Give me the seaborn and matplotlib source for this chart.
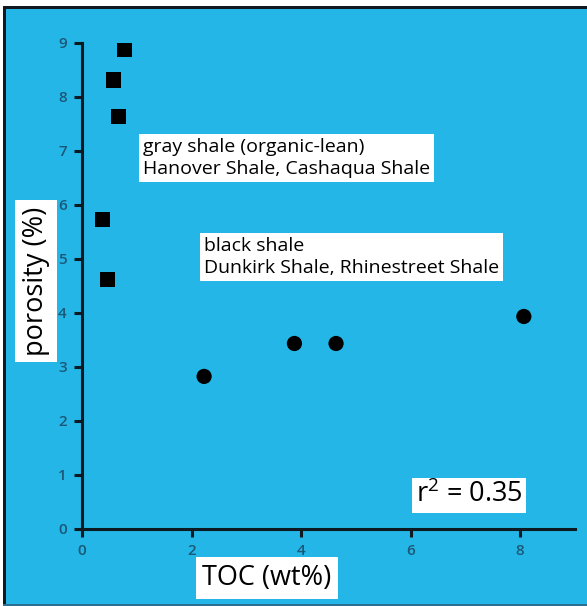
import matplotlib
matplotlib.use("Agg")
import matplotlib.pyplot as plt
import seaborn as sns
import pandas as pd
from matplotlib.patches import Rectangle

# TOC (wt%) and porosity (%) for each sample group
gray_toc = [0.78, 0.57, 0.66, 0.38, 0.46]
gray_porosity = [8.88, 8.31, 7.64, 5.72, 4.61]
black_toc = [2.23, 3.88, 4.64, 8.07]
black_porosity = [2.82, 3.43, 3.43, 3.93]

x_ticks = [0, 2, 4, 6, 8]
y_ticks = [0, 1, 2, 3, 4, 5, 6, 7, 8, 9]

gray_label = "gray shale (organic-lean)\nHanover Shale, Cashaqua Shale"
black_label = "black shale\nDunkirk Shale, Rhinestreet Shale"
r2_label = "r$^2$ = 0.35"

df = pd.DataFrame({
    "TOC": gray_toc + black_toc,
    "porosity": gray_porosity + black_porosity,
    "group": ["gray"] * len(gray_toc) + ["black"] * len(black_toc),
})

sns.set_theme(style="white")
plt.rcParams["font.family"] = ["Open Sans", "DejaVu Sans"]
plt.rcParams["mathtext.fontset"] = "custom"
plt.rcParams["mathtext.rm"] = "Open Sans"

BG = "#24b6e6"
TICK_COLOR = "#1b5878"

fig = plt.figure(figsize=(5.87, 6.06), dpi=100, facecolor="white")
W, H = 587, 606

# blue panel with dark frame edges, kept behind the axes
def frame_rect(x, y, w, h, color):
    fig.patches.append(Rectangle((x / W, y / H), w / W, h / H,
                                 transform=fig.transFigure, facecolor=color,
                                 edgecolor="none", zorder=-10))

frame_rect(5, 1, W - 5, H - 9, BG)
frame_rect(3, 0, 3, H - 6, "#111820")
frame_rect(3, H - 9, W - 3, 3, "#111820")
frame_rect(3, 0, W - 3, 2, "#2a6f90")

ax = fig.add_axes([82 / W, 1 - 528.7 / H, 492.75 / W, 486 / H])
ax.set_facecolor("none")
ax.set_zorder(5)

sns.scatterplot(data=df, x="TOC", y="porosity", style="group",
                markers={"gray": "s", "black": "o"},
                hue="group", palette={"gray": "black", "black": "black"},
                s=120, linewidth=0, legend=False, ax=ax, zorder=3)

ax.set_xlim(0, 9)
ax.set_ylim(0, 9)
ax.set_xticks(x_ticks)
ax.set_yticks(y_ticks)
for side in ("top", "right"):
    ax.spines[side].set_visible(False)
for side in ("left", "bottom"):
    ax.spines[side].set_color("#0d1a22")
    ax.spines[side].set_linewidth(2.2)
ax.spines["left"].set_bounds(0, 9)
ax.spines["bottom"].set_bounds(0, 9)
ax.tick_params(axis="both", which="major", bottom=True, left=True,
               direction="out", length=6, width=2.2,
               color="#0d1a22", labelcolor=TICK_COLOR, labelsize=11, pad=5)
for lbl in ax.get_xticklabels() + ax.get_yticklabels():
    lbl.set_fontweight("semibold")

ax.set_xlabel("")
ax.set_ylabel("")

box = dict(boxstyle="square,pad=0.25", facecolor="white", edgecolor="none")

fig.text(267 / W, 1 - 578 / H, "TOC (wt%)", ha="center", va="center",
         fontsize=19.5, color="black", bbox=box, zorder=6)
fig.text(36 / W, 1 - 281 / H, "porosity (%)", ha="center", va="center",
         rotation=90, fontsize=19.5, color="black", bbox=box, zorder=6)

note_box = dict(boxstyle="square,pad=0.2", facecolor="white", edgecolor="none")
ax.text(143 / W, 1 - 158 / H, gray_label, transform=fig.transFigure,
        ha="left", va="center", fontsize=14, linespacing=1.3, color="black",
        bbox=note_box)
ax.text(204 / W, 1 - 257 / H, black_label, transform=fig.transFigure,
        ha="left", va="center", fontsize=14, linespacing=1.3, color="black",
        bbox=note_box)
ax.text(469 / W, 1 - 495 / H, r2_label, transform=fig.transFigure,
        ha="center", va="center", fontsize=19.5, color="black",
        bbox=dict(boxstyle="square,pad=0.12", facecolor="white", edgecolor="none"))

fig.savefig("out.png", dpi=100, facecolor=fig.get_facecolor())
